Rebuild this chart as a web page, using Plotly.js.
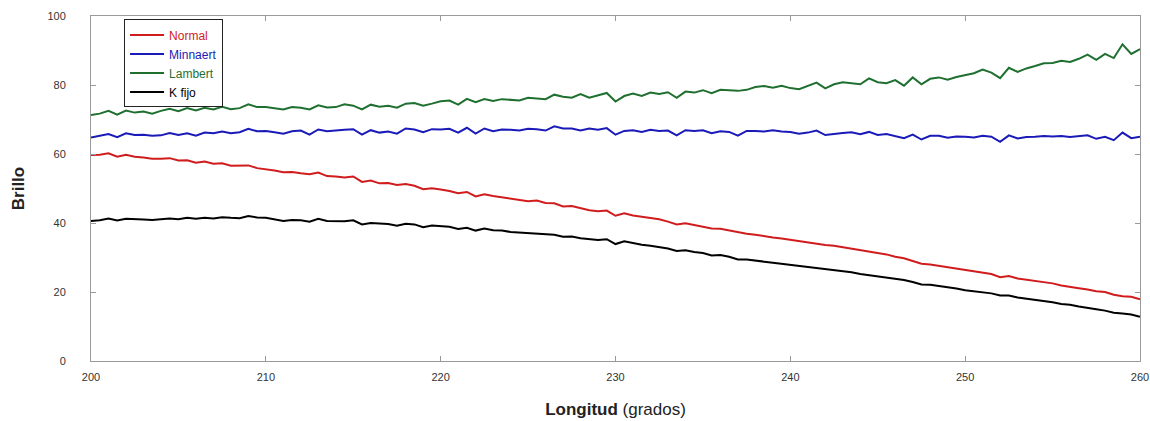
<!DOCTYPE html>
<html>
<head>
<meta charset="utf-8">
<script src="https://cdn.plot.ly/plotly-3.0.1.min.js"></script>
<style>html,body{margin:0;padding:0;background:#fff;}#chart{width:1150px;height:421px;}</style>
</head>
<body>
<div id="chart"></div>
<script>
// Longitude (degrees), 0.5 degree steps from 200 to 260
const longitud = [];
for (let i = 0; i <= 120; i++) longitud.push(200 + i * 0.5);

const seriesNames = ["Normal", "Minnaert", "Lambert", "K fijo"];
const seriesColors = ["#d01c1c", "#1a1ab8", "#1f7030", "#000000"];

const normal = [
59.7,59.8,60.2,59.2,59.8,59.2,59.0,58.6,58.6,58.8,58.1,58.2,57.5,57.8,57.2,57.3,56.6,56.6,56.7,55.9,
55.6,55.2,54.7,54.8,54.4,54.1,54.6,53.6,53.5,53.2,53.5,51.9,52.3,51.5,51.6,51.0,51.3,50.8,49.8,50.1,
49.7,49.3,48.6,49.0,47.7,48.3,47.8,47.4,47.1,46.8,46.3,46.5,45.8,45.7,44.8,44.9,44.2,43.7,43.4,43.6,
42.1,42.8,42.2,41.8,41.4,41.1,40.4,39.6,39.9,39.4,39.0,38.4,38.3,37.8,37.2,36.9,36.6,36.1,35.8,35.5,
35.1,34.7,34.5,34.0,33.6,33.4,33.0,32.5,32.0,31.8,31.2,30.9,30.2,29.8,29.0,28.2,28.0,27.6,27.3,26.9,
26.5,26.2,25.6,25.2,24.3,24.6,23.9,23.6,23.3,22.9,22.5,21.9,21.6,21.1,20.7,20.2,20.0,19.2,18.8,18.6,
17.9];

const minnaert = [
64.8,65.2,65.8,64.9,66.0,65.5,65.6,65.3,65.4,66.1,65.5,66.0,65.3,66.2,66.0,66.5,66.0,66.3,67.3,66.6,
66.7,66.3,65.9,66.6,66.8,65.6,67.1,66.6,66.7,67.0,67.2,65.6,66.9,66.2,66.5,65.9,67.4,67.1,66.3,67.2,
67.1,67.3,66.2,67.6,65.9,67.4,66.6,67.1,67.0,66.8,67.3,67.2,66.8,68.0,67.4,67.4,66.8,67.4,67.0,67.5,
65.6,66.7,66.9,66.4,67.0,66.7,66.8,65.4,66.9,66.7,66.9,66.0,66.6,66.4,65.3,66.7,66.7,66.5,66.9,66.5,
66.4,65.9,66.2,66.8,65.5,65.9,66.1,66.3,65.7,66.4,65.5,65.8,65.3,64.6,65.6,64.2,65.3,65.3,64.7,65.1,
65.0,64.8,65.3,65.0,63.5,65.4,64.5,64.9,65.0,65.2,65.1,65.2,64.9,65.1,65.4,64.4,65.0,64.0,66.2,64.6,
65.0];

const lambert = [
71.3,71.7,72.5,71.4,72.6,72.0,72.3,71.7,72.5,73.1,72.4,73.3,72.6,73.4,72.9,73.7,73.0,73.3,74.4,73.6,
73.6,73.2,72.9,73.6,73.4,72.9,74.1,73.5,73.6,74.4,74.0,72.9,74.3,73.7,74.0,73.4,74.6,74.8,74.0,74.6,
75.3,75.5,74.3,76.0,75.0,75.9,75.4,75.9,75.8,75.5,76.3,76.2,75.9,77.2,76.6,76.3,77.4,76.3,76.9,77.7,
75.2,76.8,77.5,76.8,77.8,77.4,77.9,76.3,78.1,77.8,78.5,77.6,78.6,78.4,78.3,78.6,79.4,79.7,79.2,79.8,
79.1,78.8,79.8,80.7,79.0,80.2,80.8,80.6,80.2,81.9,80.8,80.5,81.4,79.8,82.2,80.2,81.8,82.2,81.5,82.3,
82.8,83.4,84.5,83.6,82.0,85.0,83.8,84.8,85.5,86.3,86.4,87.0,86.7,87.6,88.8,87.3,89.0,87.8,91.8,89.0,
90.4];

const kFijo = [
40.6,40.8,41.3,40.7,41.2,41.0,41.0,40.9,41.0,41.3,41.1,41.5,41.2,41.5,41.3,41.7,41.5,41.4,42.0,41.6,
41.5,41.1,40.6,40.9,40.8,40.4,41.2,40.6,40.6,40.5,40.8,39.6,40.0,39.8,39.7,39.2,39.8,39.6,38.8,39.3,
39.0,38.9,38.3,38.6,37.8,38.4,37.9,37.8,37.4,37.2,37.1,37.0,36.6,36.6,36.0,36.1,35.6,35.4,35.1,35.3,
33.9,34.7,34.1,33.7,33.4,33.0,32.6,31.9,32.1,31.6,31.3,30.6,30.7,30.2,29.4,29.4,29.0,28.8,28.5,28.2,
28.0,27.6,27.4,26.9,26.7,26.4,26.1,25.7,25.2,24.9,24.5,24.2,23.8,23.5,22.9,22.2,22.1,21.8,21.4,21.0,
20.5,20.2,19.9,19.6,19.0,19.0,18.4,18.1,17.8,17.4,17.0,16.5,16.3,15.8,15.5,15.0,14.6,14.0,13.8,13.5,
12.8];

const xTicks = [200, 210, 220, 230, 240, 250, 260];
const yTicks = [0, 20, 40, 60, 80, 100];

const allSeries = [normal, minnaert, lambert, kFijo];
const traces = allSeries.map((vals, k) => ({
  x: longitud,
  y: vals,
  type: 'scatter',
  mode: 'lines',
  name: '<span style="color:' + seriesColors[k] + '">' + seriesNames[k] + '</span>',
  line: { color: seriesColors[k], width: 2 }
}));

const axisCommon = {
  showline: true,
  linecolor: '#9a9a9a',
  linewidth: 1,
  mirror: 'ticks',
  ticks: 'inside',
  ticklen: 5,
  tickcolor: '#9a9a9a',
  showgrid: false,
  zeroline: false,
  tickfont: { family: 'Liberation Sans, Arial, sans-serif', size: 11, color: '#333' }
};

const layout = {
  width: 1150,
  height: 421,
  margin: { l: 91, r: 10, t: 16, b: 60 },
  paper_bgcolor: '#fff',
  plot_bgcolor: '#fff',
  font: { family: 'Liberation Sans, Arial, sans-serif' },
  showlegend: true,
  legend: {
    x: 0.0315, y: 0.99, xanchor: 'left', yanchor: 'top',
    bordercolor: '#222', borderwidth: 1, bgcolor: '#fff',
    font: { family: 'Liberation Sans, Arial, sans-serif', size: 12 },
    itemwidth: 34, tracegroupgap: 0
  },
  xaxis: Object.assign({}, axisCommon, {
    range: [200, 260],
    tickvals: xTicks,
    ticktext: xTicks.map(String),
    ticklabelstandoff: 6,
    title: { text: '<b>Longitud</b> (grados)', font: { size: 17, color: '#222', family: 'Liberation Sans, Arial, sans-serif' }, standoff: 20 }
  }),
  yaxis: Object.assign({}, axisCommon, {
    range: [0, 100],
    tickvals: yTicks,
    ticktext: yTicks.map(String),
    ticklabelstandoff: 22,
    title: { text: '<b>Brillo</b>', font: { size: 17, color: '#222', family: 'Liberation Sans, Arial, sans-serif' }, standoff: 18 }
  })
};

Plotly.newPlot('chart', traces, layout, { displayModeBar: false, staticPlot: true });
</script>
</body>
</html>
